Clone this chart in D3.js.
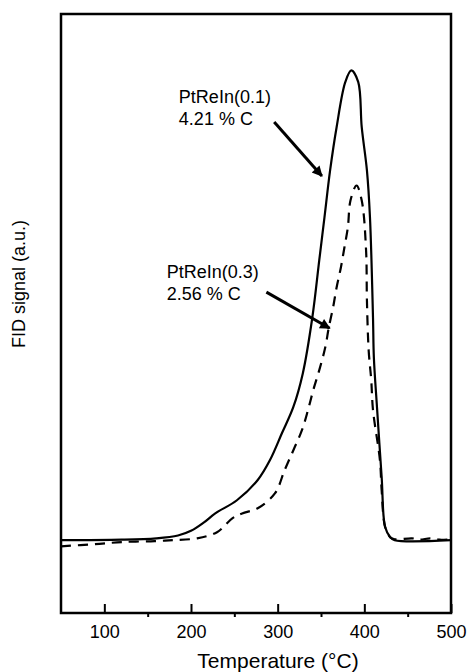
<!DOCTYPE html>
<html lang="en">

<head>
    <meta charset="UTF-8" />
    <script src="https://d3js.org/d3.v7.min.js"></script>
    <title>TPO</title>
    <style>
        body { margin: 0; background: #fff; }
        text { font-family: "Liberation Sans", Arial, sans-serif; fill: #000; }
    </style>
</head>

<body>
    <script>
        const width = 468,
            height = 672

        // data (temperature in °C, signal in a.u.)
        const tempSolid = [50, 120, 160, 185, 200, 215, 228, 253, 277, 291, 305, 318, 329, 340, 348, 354, 360.5, 368, 378, 385, 393, 397, 403, 406.5, 410, 411, 414.6, 420, 424, 430, 435, 500]
        const signalSolid = [0, 0.1, 0.4, 1.0, 2.0, 3.8, 5.7, 8.5, 12.8, 17, 22.8, 28.3, 35.5, 47.4, 59.6, 68.7, 78.7, 87.9, 97.5, 100, 97.5, 87.9, 78.7, 68.7, 47.4, 38.9, 28.3, 13.4, 2.8, 0.6, 0, 0]
        const tempDashed = [50, 89, 120, 158, 179, 207, 230, 248, 259, 277, 297, 308, 318, 328, 335, 341, 348, 355, 359, 364, 368, 373, 377, 381, 384, 391, 397, 402, 403, 405, 408, 410, 418, 420, 424, 430, 435, 455, 464, 476, 487, 500]
        const signalDashed = [-1.3, -0.85, -0.4, -0.2, 0, 0.4, 1.7, 4.7, 5.7, 6.8, 10, 14.9, 19.1, 23.4, 27.7, 31.9, 36.2, 41.1, 45.3, 49.6, 53.8, 58.1, 62.3, 66.6, 72.3, 75.5, 72.3, 61.7, 51, 40.4, 34, 27.7, 17, 10.6, 2.8, 0.6, 0.2, 0.4, 0.1, 0.4, 0.1, 0.2]
        const majorTicks = [100, 200, 300, 400, 500]
        const minorTicks = [150, 250, 350, 450]
        const labels = [
            { lines: ['PtReIn(0.1)', '4.21 % C'], t: 186, s: 93, from: [296, 89], to: [351, 77.5] },
            { lines: ['PtReIn(0.3)', '2.56 % C'], t: 172, s: 55.7, from: [287, 52.8], to: [360, 45.1] }
        ]

        const margin = { left: 61, right: 17, top: 14, bottom: 59 }
        const svg = d3.select('body').append('svg').attr('width', width).attr('height', height)

        const x = d3.scaleLinear().domain([50, 500]).range([margin.left, width - margin.right])
        const y = d3.scaleLinear().domain([-15.5, 112]).range([height - margin.bottom, margin.top])

        // arrow head
        svg.append('defs').append('marker')
            .attr('id', 'head')
            .attr('viewBox', '0 0 10 10')
            .attr('refX', 9).attr('refY', 5)
            .attr('markerWidth', 5).attr('markerHeight', 3.5)
            .attr('markerUnits', 'strokeWidth')
            .attr('orient', 'auto')
            .append('path').attr('d', 'M0,0 L10,5 L0,10 Z').attr('fill', '#000')

        // curves
        const line = d3.line()
            .x(d => x(d[0]))
            .y(d => y(d[1]))
            .curve(d3.curveCatmullRom.alpha(0.5))

        svg.append('path')
            .datum(d3.zip(tempSolid, signalSolid))
            .attr('d', line)
            .attr('fill', 'none')
            .attr('stroke', '#000')
            .attr('stroke-width', 2.2)

        svg.append('path')
            .datum(d3.zip(tempDashed, signalDashed))
            .attr('d', line)
            .attr('fill', 'none')
            .attr('stroke', '#000')
            .attr('stroke-width', 2.2)
            .attr('stroke-dasharray', '10,7')

        // frame
        svg.append('rect')
            .attr('x', x(50)).attr('y', y(112))
            .attr('width', x(500) - x(50)).attr('height', y(-15.5) - y(112))
            .attr('fill', 'none').attr('stroke', '#000').attr('stroke-width', 2.5)

        // x axis: major ticks inside, minor ticks outside
        const xAxis = svg.append('g')
            .attr('transform', `translate(0,${y(-15.5)})`)
            .call(d3.axisBottom(x).tickValues(majorTicks).tickSizeInner(-9).tickSizeOuter(0))
        xAxis.select('.domain').remove()
        xAxis.selectAll('line').attr('stroke-width', 2)
        xAxis.selectAll('text').attr('font-size', 18).attr('font-family', '"Liberation Sans", Arial, sans-serif')
            .attr('dy', '0.71em').attr('y', 12)

        const xMinor = svg.append('g')
            .attr('transform', `translate(0,${y(-15.5)})`)
            .call(d3.axisBottom(x).tickValues(minorTicks).tickSize(4).tickFormat(''))
        xMinor.select('.domain').remove()
        xMinor.selectAll('line').attr('stroke-width', 2)

        // axis titles
        svg.append('text')
            .attr('x', 278).attr('y', 668)
            .attr('text-anchor', 'middle')
            .attr('font-size', 21)
            .text('Temperature (°C)')

        svg.append('text')
            .attr('transform', 'translate(25,284) rotate(-90)')
            .attr('text-anchor', 'middle')
            .attr('font-size', 18)
            .text('FID signal (a.u.)')

        // annotations
        labels.forEach(l => {
            const t = svg.append('text')
                .attr('x', x(l.t)).attr('y', y(l.s))
                .attr('font-size', 18)
            l.lines.forEach((s, i) => {
                t.append('tspan').attr('x', x(l.t)).attr('dy', i ? 22 : 0).text(s)
            })
            svg.append('line')
                .attr('x1', x(l.from[0])).attr('y1', y(l.from[1]))
                .attr('x2', x(l.to[0])).attr('y2', y(l.to[1]))
                .attr('stroke', '#000').attr('stroke-width', 3)
                .attr('marker-end', 'url(#head)')
        })
    </script>
</body>

</html>
